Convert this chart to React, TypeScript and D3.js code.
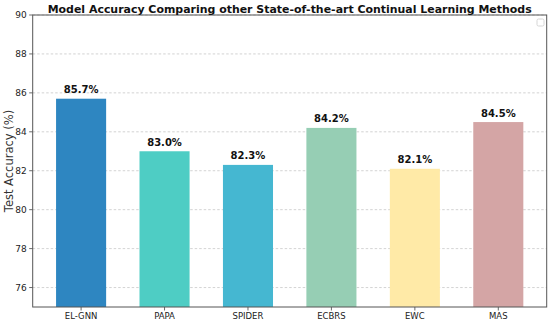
import React from 'react';
import * as d3 from 'd3';

const methods = ['EL-GNN', 'PAPA', 'SPIDER', 'ECBRS', 'EWC', 'MAS'];
const accuracy = [85.7, 83.0, 82.3, 84.2, 82.1, 84.5];
const colors = ['#2e86c1', '#4ecdc4', '#45b7d1', '#96ceb4', '#ffeaa7', '#d4a5a5'];
const yTicks = [76, 78, 80, 82, 84, 86, 88, 90];

const W = 550;
const H = 325;
const left = 32.7;
const right = 546.7;
const top = 15;
const bottom = 307;
const font = 'DejaVu Sans, sans-serif';

const App = () => {
  const x = d3.scaleLinear().domain([-0.58, methods.length - 1 + 0.58]).range([left, right]);
  const y = d3.scaleLinear().domain([75, 90]).range([bottom, top]);
  const barW = x(0.6) - x(0);

  return (
    <svg width={W} height={H} style={{ position: 'absolute', left: 0, top: 0 }}>
      <rect width={W} height={H} fill="#fff" />
      {yTicks.map((t) => (
        <g key={t}>
          <line x1={left} x2={right} y1={y(t)} y2={y(t)} stroke="#c8c8c8" strokeWidth={0.8} strokeDasharray="2.5,2" />
          <line x1={left - 3.5} x2={left} y1={y(t)} y2={y(t)} stroke="#444" strokeWidth={0.8} />
          <text x={left - 6} y={y(t)} dy="0.35em" textAnchor="end" fontFamily={font} fontSize={9} fill="#222">{t}</text>
        </g>
      ))}
      {methods.map((m, i) => (
        <g key={m}>
          <rect x={x(i) - barW / 2} y={y(accuracy[i])} width={barW} height={bottom - y(accuracy[i])} fill={colors[i]} />
          <text x={x(i)} y={y(accuracy[i]) - 5.5} textAnchor="middle" fontFamily={font} fontSize={10} fontWeight="bold" fill="#111">
            {accuracy[i].toFixed(1)}%
          </text>
          <line x1={x(i)} x2={x(i)} y1={bottom} y2={bottom + 3.5} stroke="#444" strokeWidth={0.8} />
          <text x={x(i)} y={bottom + 12} textAnchor="middle" fontFamily={font} fontSize={8.5} fill="#222">{m}</text>
        </g>
      ))}
      <rect x={left} y={top} width={right - left} height={bottom - top} fill="none" stroke="#555" strokeWidth={1} />
      <rect x={537} y={19} width={7} height={7} rx={1.5} fill="none" stroke="#ccc" strokeWidth={0.8} />
      <text x={(left + right) / 2} y={12.5} textAnchor="middle" fontFamily={font} fontSize={11} fontWeight="bold" fill="#111"
        textLength={484} lengthAdjust="spacingAndGlyphs">
        Model Accuracy Comparing other State-of-the-art Continual Learning Methods
      </text>
      <text transform={`translate(13,${(top + bottom) / 2}) rotate(-90)`} textAnchor="middle" fontFamily={font} fontSize={11.5} fill="#333">
        Test Accuracy (%)
      </text>
    </svg>
  );
};

export default App;
